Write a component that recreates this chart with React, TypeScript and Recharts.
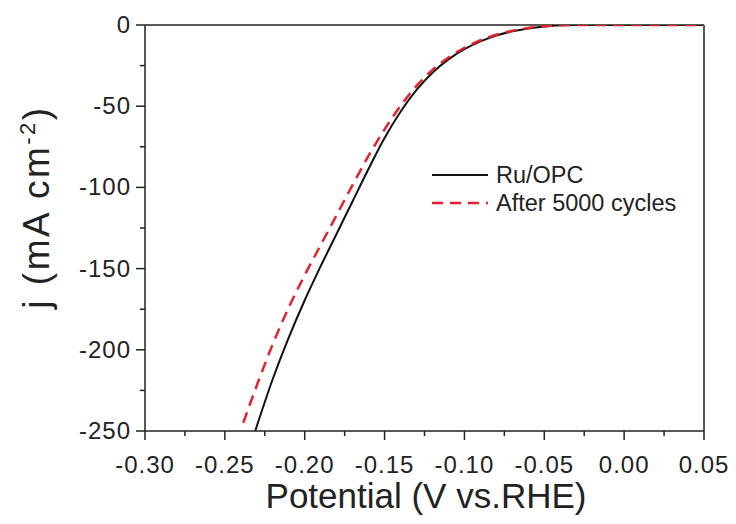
import { LineChart, Line, XAxis, YAxis, ReferenceLine, Legend } from 'recharts'

// Ru/OPC polarization curve
const potentialRu = [
  -0.231, -0.22, -0.21, -0.2, -0.19, -0.18, -0.17, -0.16, -0.15, -0.14, -0.13, -0.12,
  -0.11, -0.1, -0.09, -0.08, -0.07, -0.06, -0.05, -0.04, -0.03, -0.02, 0.0, 0.05,
]
const currentRu = [
  -250, -218, -192.5, -169.5, -148.5, -128.5, -108.5, -88.5, -69.6, -53.4, -40, -29.4,
  -21.2, -14.9, -10.1, -6.5, -3.9, -2.1, -0.9, -0.2, 0, 0, 0, 0,
]

// same catalyst after 5000 cycles
const potentialAfter = [
  -0.2385, -0.23, -0.22, -0.21, -0.2, -0.19, -0.18, -0.17, -0.16, -0.15, -0.14, -0.13,
  -0.12, -0.11, -0.1, -0.09, -0.08, -0.07, -0.06, -0.05, -0.04, -0.03, -0.02, 0.0, 0.05,
]
const currentAfter = [
  -245, -222, -196.5, -174, -154, -135.5, -117, -98.5, -80.5, -64.3, -49.8, -37.5,
  -27.7, -20, -14, -9.4, -6, -3.5, -1.8, -0.75, -0.15, 0, 0, 0, 0,
]

const xTicks = [
  -0.3, -0.275, -0.25, -0.225, -0.2, -0.175, -0.15, -0.125, -0.1, -0.075, -0.05, -0.025,
  0, 0.025, 0.05,
]
const yTicks = [-250, -225, -200, -175, -150, -125, -100, -75, -50, -25, 0]

const ruData = potentialRu.map((v, i) => ({ v, j: currentRu[i] }))
const afterData = potentialAfter.map((v, i) => ({ v, j: currentAfter[i] }))

const FONT = '"Liberation Sans", Arial, sans-serif'
const INK = '#222'

const isMultiple = (value: number, step: number) =>
  Math.abs(Math.round(value / step) * step - value) < 1e-6

function XTick({ x, y, payload }: any) {
  const major = isMultiple(payload.value, 0.05)
  return (
    <g>
      <line x1={x} x2={x} y1={y} y2={y + (major ? 9 : 5)} stroke={INK} strokeWidth={1.5} />
      {major ? (
        <text
          x={x}
          y={y + 42}
          textAnchor="middle"
          fontSize={24}
          letterSpacing={1}
          fontFamily={FONT}
          fill={INK}
        >
          {payload.value.toFixed(2)}
        </text>
      ) : null}
    </g>
  )
}

function YTick({ x, y, payload }: any) {
  const major = isMultiple(payload.value, 50)
  return (
    <g>
      <line x1={x} x2={x - (major ? 9 : 5)} y1={y} y2={y} stroke={INK} strokeWidth={1.5} />
      {major ? (
        <text
          x={x - 14}
          y={y + 8}
          textAnchor="end"
          fontSize={24}
          letterSpacing={1}
          fontFamily={FONT}
          fill={INK}
        >
          {payload.value}
        </text>
      ) : null}
    </g>
  )
}

function LegendBox() {
  return (
    <svg width={300} height={70}>
      <line x1={7} x2={63} y1={20} y2={20} stroke="#111" strokeWidth={2} />
      <text x={71} y={28} fontSize={23.5} fontFamily={FONT} fill={INK}>
        Ru/OPC
      </text>
      <line
        x1={7}
        x2={63}
        y1={48}
        y2={48}
        stroke="#e3222b"
        strokeWidth={2.5}
        strokeDasharray="11 7"
      />
      <text x={71} y={56} fontSize={23.5} fontFamily={FONT} fill={INK}>
        After 5000 cycles
      </text>
    </svg>
  )
}

export default function App() {
  return (
    <div style={{ position: 'absolute', left: 0, top: 0, background: '#fff' }}>
      <LineChart width={736} height={524} margin={{ top: 25, right: 32, left: 0, bottom: 0 }}>
        <XAxis
          type="number"
          dataKey="v"
          domain={[-0.3, 0.05]}
          ticks={xTicks}
          interval={0}
          height={93}
          tickSize={0}
          tickMargin={0}
          tickLine={false}
          tick={<XTick />}
          axisLine={{ stroke: INK, strokeWidth: 1.5 }}
          allowDataOverflow
          label={{
            content: () => (
              <text
                x={426}
                y={508}
                textAnchor="middle"
                fontSize={35}
                fontFamily={FONT}
                fill={INK}
              >
                Potential (V vs.RHE)
              </text>
            ),
          }}
        />
        <YAxis
          type="number"
          dataKey="j"
          domain={[-250, 0]}
          ticks={yTicks}
          interval={0}
          width={145}
          tickSize={0}
          tickMargin={0}
          tickLine={false}
          tick={<YTick />}
          axisLine={{ stroke: INK, strokeWidth: 1.5 }}
          allowDataOverflow
          label={{
            content: () => (
              <text
                transform="translate(49, 207) rotate(-90)"
                textAnchor="middle"
                fontSize={37}
                letterSpacing={2.5}
                fontFamily={FONT}
                fill={INK}
              >
                j (mA cm
                <tspan dy={-14} fontSize={22}>
                  -2
                </tspan>
                <tspan dy={14}>)</tspan>
              </text>
            ),
          }}
        />
        <ReferenceLine y={0} stroke={INK} strokeWidth={1.5} />
        <ReferenceLine x={0.05} stroke={INK} strokeWidth={1.5} />
        <Legend
          layout="vertical"
          align="center"
          verticalAlign="middle"
          content={() => <LegendBox />}
          wrapperStyle={{ position: 'absolute', left: 425, top: 155, width: 300 }}
        />
        <Line
          data={ruData}
          dataKey="j"
          type="monotone"
          stroke="#111"
          strokeWidth={2}
          dot={false}
          isAnimationActive={false}
        />
        <Line
          data={afterData}
          dataKey="j"
          type="monotone"
          stroke="#e3222b"
          strokeWidth={2.5}
          strokeDasharray="11 7"
          dot={false}
          isAnimationActive={false}
        />
      </LineChart>
    </div>
  )
}
